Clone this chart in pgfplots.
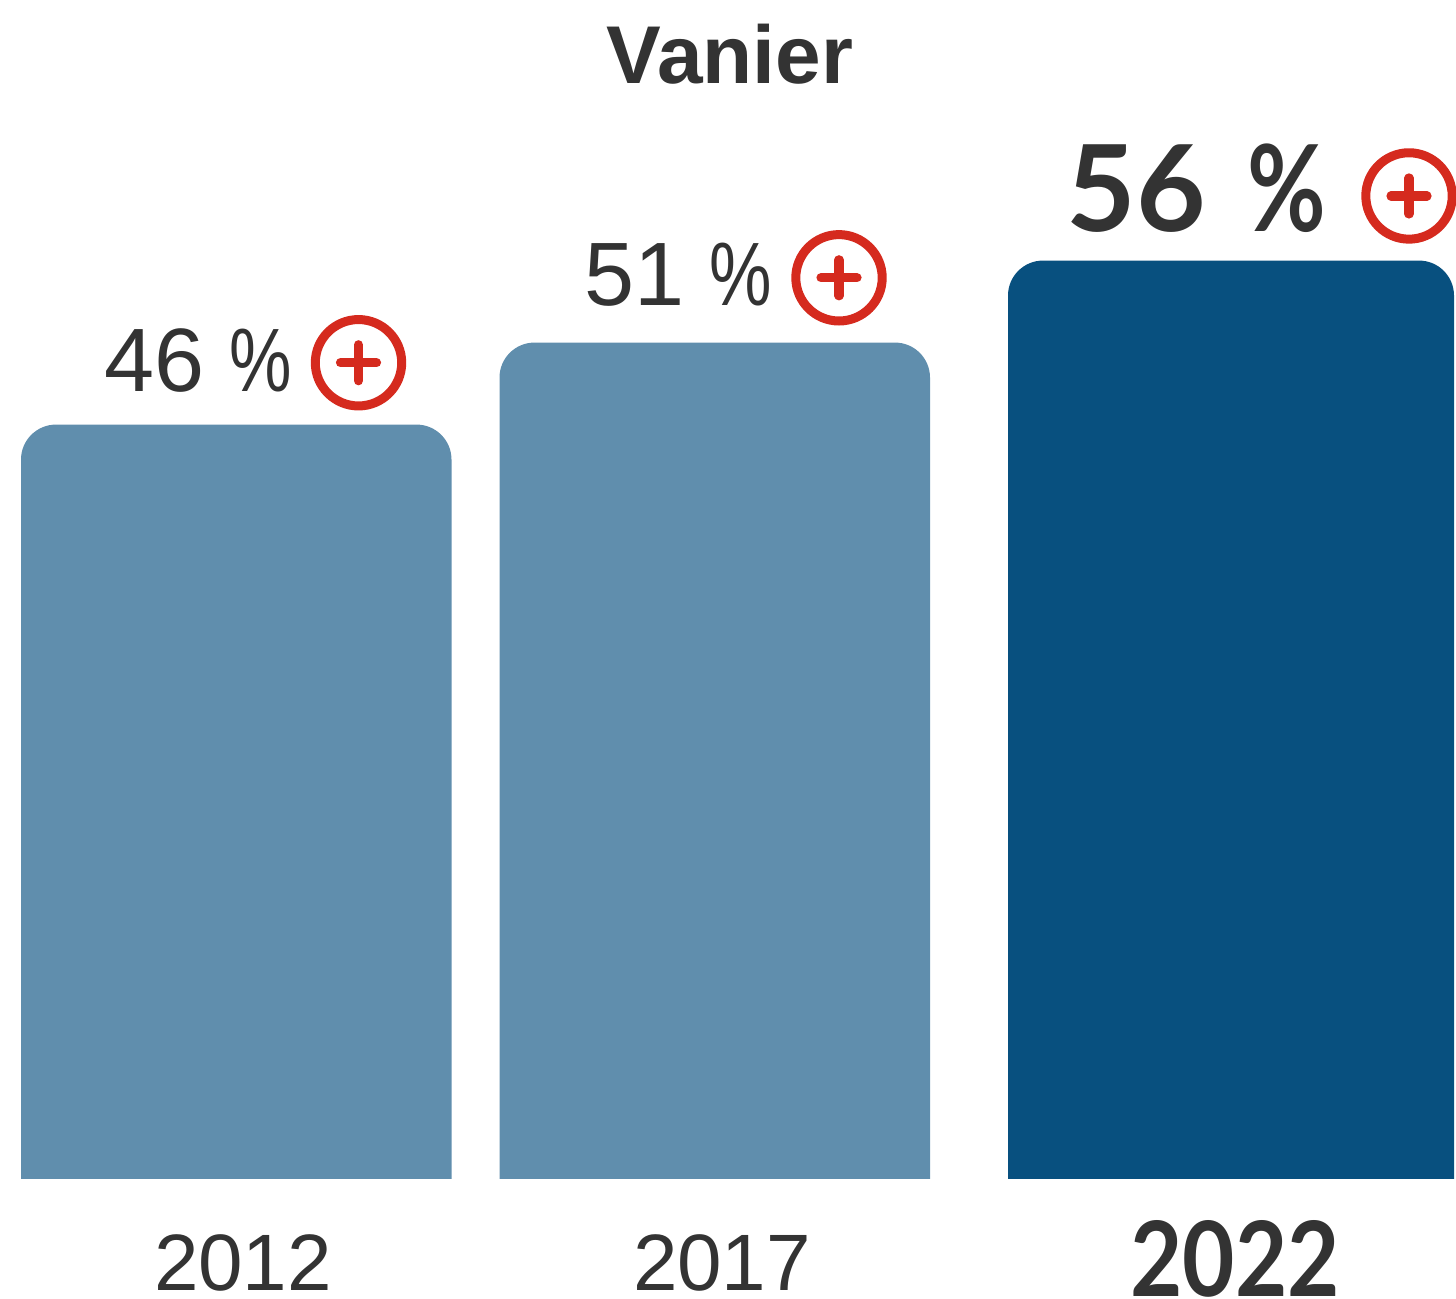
\documentclass[border=0pt]{standalone}
\usepackage{fontspec}
\usepackage{pgfplots}
\pgfplotsset{compat=1.18}
\setmainfont{Liberation Sans}
\newfontfamily\latofont{Lato}
\definecolor{barlight}{HTML}{608EAD}
\definecolor{bardark}{HTML}{08507F}
\definecolor{txt}{HTML}{333333}
\definecolor{redc}{HTML}{D52A1E}
\newcommand{\pct}{\scalebox{0.78}[1]{\%}}
\pgfdeclareplotmark{circplus}{%
  \pgfsetlinewidth{4.5pt}%
  \pgfpathcircle{\pgfpointorigin}{21.6pt}\pgfusepathqstroke
  \pgfsetlinewidth{4.6pt}\pgfsetroundcap
  \pgfpathmoveto{\pgfqpoint{-9pt}{0pt}}\pgfpathlineto{\pgfqpoint{9pt}{0pt}}%
  \pgfpathmoveto{\pgfqpoint{0pt}{-9pt}}\pgfpathlineto{\pgfqpoint{0pt}{9pt}}%
  \pgfusepathqstroke
}
\begin{document}
\begin{tikzpicture}[x=1pt,y=1pt]
\useasboundingbox (0,-60) rectangle (728,589.5);
\begin{axis}[
  at={(0,0)}, anchor=south west,
  scale only axis, width=728pt, height=589.5pt,
  xmin=0, xmax=1456, ymin=0, ymax=71.89,
  axis line style={draw=none},
  ytick=\empty,
  xtick={243,722,1235},
  xticklabels={%
    {\fontsize{40}{40}\selectfont 2012},%
    {\fontsize{40}{40}\selectfont 2017},%
    {\raisebox{-3pt}{\scalebox{0.868}[1]{\latofont\bfseries\fontsize{52}{52}\selectfont 2022}}}},
  major tick length=0pt,
  xticklabel shift=0pt,
  xticklabel style={anchor=base, yshift=-56pt, text=txt, inner sep=0pt, outer sep=0pt},
  clip=true,
]
\addplot[fill=barlight, draw=none, rounded corners=17.5pt] coordinates {(21,-5)(21,46)(451.5,46)(451.5,-5)} -- cycle;
\addplot[fill=barlight, draw=none, rounded corners=17.5pt] coordinates {(499.5,-5)(499.5,51)(930,51)(930,-5)} -- cycle;
\addplot[fill=bardark, draw=none, rounded corners=17.5pt] coordinates {(1008,-5)(1008,56)(1454,56)(1454,-5)} -- cycle;
\addplot[only marks, mark=circplus, draw=redc, color=redc] coordinates {(358.5,49.77)(839,54.95)(1409,59.94)};
\node[anchor=base, text=txt, font=\bfseries\fontsize{41}{41}\selectfont] at (axis cs:730,66.77) {Vanier};
\node[anchor=base east, inner sep=0pt, text=txt, font=\fontsize{45}{45}\selectfont] at (axis cs:292,47.99) {46 \pct};
\node[anchor=base east, inner sep=0pt, text=txt, font=\fontsize{45}{45}\selectfont] at (axis cs:772,53.25) {51 \pct};
\node[anchor=base east, inner sep=0pt, text=txt] at (axis cs:1327,57.75) {\latofont\bfseries\fontsize{60}{60}\selectfont 56\hspace{21pt}\scalebox{0.8}[1]{\%}};
\end{axis}
\end{tikzpicture}
\end{document}
